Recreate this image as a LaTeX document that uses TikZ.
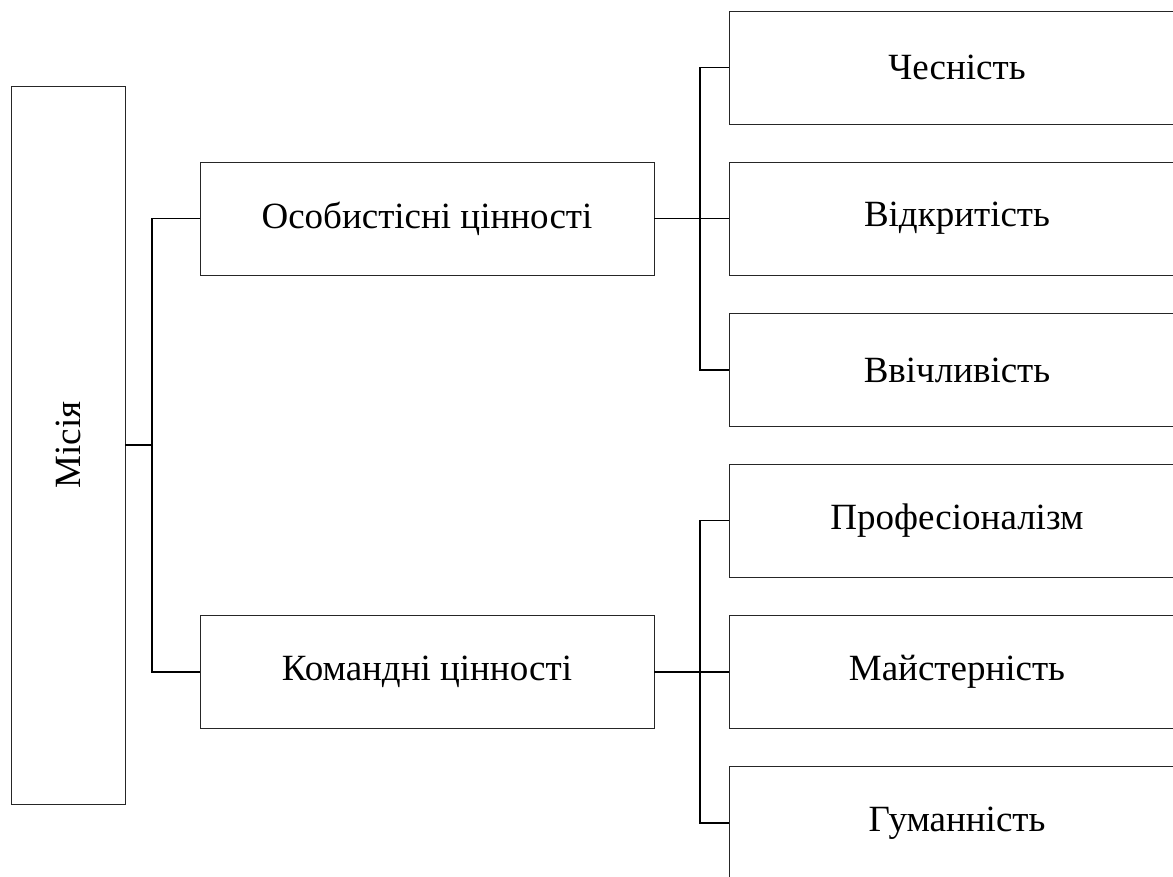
\documentclass[tikz,border=0pt]{standalone}
\usepackage{fontspec}
\setmainfont{Liberation Serif}
\begin{document}
\begin{tikzpicture}[x=1pt,y=-1pt,
  box/.style={draw=black!85,line width=0.9pt,rectangle,inner sep=0pt,
    font=\fontsize{37}{44}\selectfont},
  leaf/.style={box,minimum width=456pt,minimum height=113pt},
  mid/.style={box,minimum width=454pt,minimum height=113pt},
  link/.style={draw=black,line width=1.4pt}]
\useasboundingbox (0,0) rectangle (1173,876);
\clip (0,0) rectangle (1173,876);
\fill[white] (0,0) rectangle (1173,876);

% root box with rotated label
\node[box,minimum width=114pt,minimum height=718pt] (m) at (68,445) {};
\node[font=\fontsize{37}{44}\selectfont,rotate=90] (mt) at (m.center) {Місія};

% second level
\node[mid] (a) at (427,218.5) {Особистісні цінності};
\node[mid] (b) at (427,672) {Командні цінності};

% leaves
\node[leaf] (r1) at (957,67.5) {Чесність};
\node[leaf] (r2) at (957,218.5) {Відкритість};
\node[leaf] (r3) at (957,370) {Ввічливість};
\node[leaf] (r4) at (957,520.5) {Професіоналізм};
\node[leaf] (r5) at (957,672) {Майстерність};
\node[leaf] (r6) at (957,823) {Гуманність};

% junction points
\coordinate (j0) at (152,445);
\coordinate (j1) at (700,218.5);
\coordinate (j2) at (700,672);

% connectors
\draw[link] (m.east) -- (j0);
\draw[link] (j0) |- (a.west);
\draw[link] (j0) |- (b.west);
\draw[link] (a.east) -- (r2.west);
\draw[link] (j1) |- (r1.west);
\draw[link] (j1) |- (r3.west);
\draw[link] (b.east) -- (r5.west);
\draw[link] (j2) |- (r4.west);
\draw[link] (j2) |- (r6.west);
\end{tikzpicture}
\end{document}
